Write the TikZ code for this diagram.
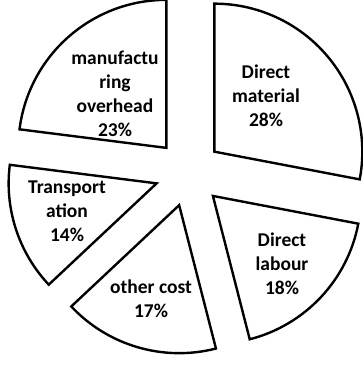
\documentclass[tikz,border=0pt]{standalone}
\usepackage{fontspec}
\setmainfont{Carlito}
\usepackage{tikz}

\begin{document}
\begin{tikzpicture}[x=1pt,y=1pt]
\tikzstyle{slice} = [draw=black,fill=white,line width=2.4pt,line join=miter]
\tikzstyle{share} = [align=center,font=\bfseries\fontsize{19.5}{24}\selectfont,inner sep=0pt]

\useasboundingbox (0,0) rectangle (363,-365);

% pie centre and the exploded apexes
\coordinate (c) at (188.5,-173);
\coordinate (dm) at ([shift={(39.6:33.5pt)}]c);
\coordinate (dl) at ([shift={(-43.2:33.5pt)}]c);
\coordinate (oc) at ([shift={(-106.2:33.5pt)}]c);
\coordinate (tr) at ([shift={(-162:33.5pt)}]c);
\coordinate (mo) at ([shift={(131.4:33.5pt)}]c);

\draw[slice] (dm) -- ++(90:148pt) arc[start angle=90, end angle=-10.8, radius=148pt] -- cycle;
\draw[slice] (dl) -- ++(-10.8:148pt) arc[start angle=-10.8, end angle=-75.6, radius=148pt] -- cycle;
\draw[slice] (oc) -- ++(-75.6:148pt) arc[start angle=-75.6, end angle=-136.8, radius=148pt] -- cycle;
\draw[slice] (tr) -- ++(-136.8:148pt) arc[start angle=-136.8, end angle=-187.2, radius=148pt] -- cycle;
\draw[slice] (mo) -- ++(172.8:148pt) arc[start angle=172.8, end angle=90, radius=148pt] -- cycle;

\node[share] (dmlabel) at (266,-96) {Direct\\material\\28\%};
\node[share] (dllabel) at (282,-264) {Direct\\labour\\18\%};
\node[share] (oclabel) at (151,-299) {other cost\\17\%};
\node[share] (trlabel) at (67,-211) {Transport\\ation\\14\%};
\node[share] (molabel) at (115,-94) {manufactu\\ring\\overhead\\23\%};

\end{tikzpicture}
\end{document}
